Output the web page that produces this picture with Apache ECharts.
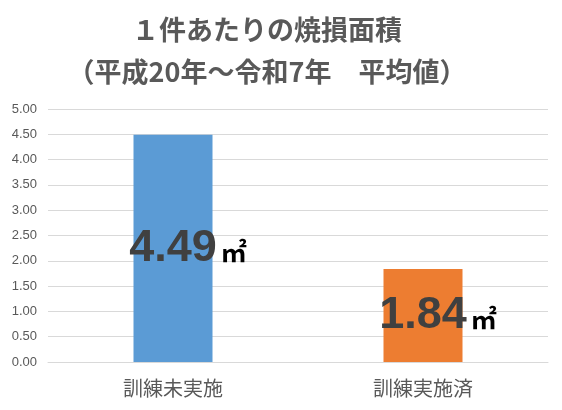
<!DOCTYPE html>
<html><head><meta charset="utf-8">
<script src="https://cdn.jsdelivr.net/npm/echarts@6/dist/echarts.min.js"></script>
<style>html,body{margin:0;padding:0;background:#fff}#c{width:562px;height:410px}</style>
</head><body><div id="c"></div>
<script>
const categories = ['訓練未実施', '訓練実施済'];
const values = [4.49, 1.84];
const barColors = ['#5B9BD5', '#ED7D31'];
const titleLines = ['１件あたりの焼損面積', '（平成20年～令和7年　平均値）'];
const unit = '㎡';

const chart = echarts.init(document.getElementById('c'), null, {renderer: 'canvas'});
chart.setOption({
  animation: false,
  title: {
    text: titleLines.join('\n'),
    left: 262, top: 4, textAlign: 'center',
    textStyle: {fontFamily: 'Noto Sans CJK JP', fontWeight: 'bold', fontSize: 27, color: '#595959', lineHeight: 42}
  },
  grid: {left: 48, right: 14, top: 109, bottom: 48},
  xAxis: {
    type: 'category', data: categories,
    axisLine: {lineStyle: {color: '#d9d9d9'}},
    axisTick: {show: false},
    axisLabel: {color: '#595959', fontSize: 20, fontFamily: 'Noto Sans CJK JP', margin: 16}
  },
  yAxis: {
    type: 'value', min: 0, max: 5, interval: 0.5,
    axisLabel: {color: '#595959', fontSize: 13, fontFamily: 'Liberation Sans', margin: 11, formatter: v => v.toFixed(2)},
    splitLine: {lineStyle: {color: '#d9d9d9'}},
    axisLine: {show: false}, axisTick: {show: false}
  },
  series: [{
    type: 'bar', barWidth: 79,
    data: values.map((v, i) => ({value: v, itemStyle: {color: barColors[i]}})),
    label: {
      show: true, position: 'inside', offset: [15, 0],
      formatter: p => '{v|' + p.value.toFixed(2) + '}{u|' + unit + '}',
      rich: {
        v: {fontSize: 45, fontWeight: 'bold', color: '#404040', fontFamily: 'Liberation Sans'},
        u: {fontSize: 26, fontWeight: 'bold', color: '#000', fontFamily: 'Noto Sans CJK JP', padding: [0, 0, 6, 4], verticalAlign: 'bottom'}
      }
    }
  }]
});
</script></body></html>
